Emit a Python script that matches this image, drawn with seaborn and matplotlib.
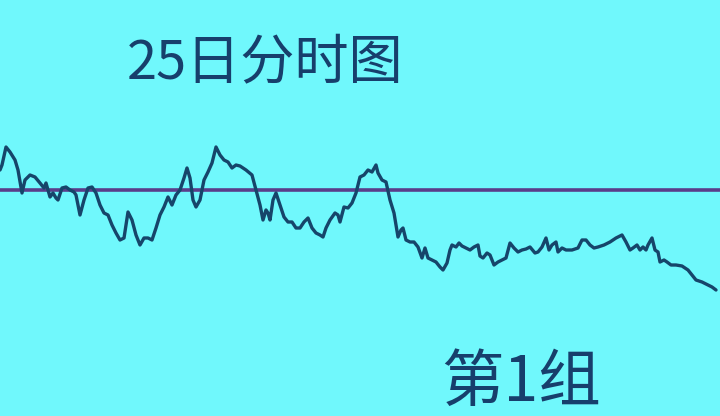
import numpy as np
import pandas as pd
import seaborn as sns
import matplotlib.pyplot as plt

# --- data (sample index, % change vs. prev close) ---
sample_idx = [0, 2, 6, 10, 15, 18, 22, 25, 30, 35, 40, 44, 46, 50, 53, 56, 58, 62, 66, 70,
              74, 76, 80, 84, 88, 92, 96, 100, 104, 108, 112, 116, 120, 124, 128, 132, 136, 140, 144, 148,
              152, 156, 160, 164, 168, 172, 176, 180, 184, 187, 190, 193, 196, 200, 204, 208, 212, 216, 220, 224,
              228, 232, 236, 240, 246, 252, 256, 260, 263, 266, 268, 270, 273, 276, 280, 284, 288, 292, 296, 300,
              304, 308, 312, 316, 320, 323, 326, 330, 335, 338, 340, 344, 348, 352, 356, 360, 364, 368, 372, 376,
              378, 382, 386, 390, 394, 398, 401, 403, 406, 410, 414, 418, 422, 425, 428, 432, 436, 440, 443, 447,
              450, 452, 456, 459, 462, 466, 470, 474, 478, 480, 483, 487, 490, 494, 498, 502, 506, 510, 514, 518,
              522, 526, 530, 535, 538, 542, 546, 549, 552, 556, 558, 562, 566, 572, 578, 582, 586, 590, 594, 598,
              604, 610, 616, 622, 626, 630, 633, 637, 640, 643, 646, 648, 652, 655, 658, 660, 664, 667, 671, 676,
              682, 688, 692, 696, 702, 708, 712, 716]
pct_change = [2.0, 2.5, 4.3, 3.8, 3.0, 2.0, -0.3, 1.0, 1.5, 1.3, 0.7, 0.2, 0.7, -0.7, -0.3, -0.8, -1.0, 0.2, 0.3, 0.0,
              -0.2, -0.5, -2.5, -1.0, 0.2, 0.3, -0.3, -1.5, -2.3, -2.5, -3.5, -4.3, -5.0, -4.8, -2.2, -3.0, -4.5, -5.5, -4.8, -4.8,
              -5.0, -3.8, -2.5, -1.7, -0.7, -1.5, -0.5, 0.0, 1.2, 2.2, 1.2, -1.0, -1.7, -1.0, 1.0, 1.8, 2.7, 4.3, 3.5, 3.0,
              2.8, 2.2, 2.5, 2.4, 2.0, 1.5, 0.0, -1.5, -3.0, -2.0, -2.3, -3.0, -1.0, -0.3, -1.5, -2.7, -3.2, -3.2, -3.8, -3.8,
              -3.2, -2.8, -3.8, -4.3, -4.5, -4.7, -3.8, -3.0, -2.3, -2.5, -3.2, -1.7, -1.8, -1.3, -0.3, 1.3, 1.5, 2.0, 1.8, 2.5,
              1.7, 1.0, 0.8, -1.0, -2.3, -4.7, -4.0, -3.8, -5.0, -5.2, -5.2, -5.7, -6.8, -5.8, -6.8, -7.0, -7.2, -7.7, -8.0, -7.3,
              -6.0, -5.5, -5.7, -5.3, -5.6, -5.8, -6.0, -5.7, -5.5, -6.6, -6.8, -6.3, -6.5, -7.5, -7.2, -7.0, -6.8, -5.3, -5.8, -6.2,
              -6.0, -5.9, -5.7, -6.3, -6.2, -5.7, -4.8, -6.0, -5.5, -5.2, -6.2, -5.8, -6.0, -6.0, -5.8, -5.0, -5.0, -5.5, -5.8, -5.7,
              -5.5, -5.2, -4.8, -4.5, -5.2, -6.0, -5.8, -5.5, -6.0, -5.7, -6.0, -5.5, -4.8, -6.0, -6.2, -7.2, -7.0, -7.2, -7.5, -7.5,
              -7.6, -8.0, -8.5, -9.0, -9.2, -9.5, -9.7, -10.0]
prev_close = 0.0
title_text = "25日分时图"
group_text = "第1组"

BG = "#70f8fc"
LINE_C = "#16456a"
REF_C = "#5a3d8a"
TEXT_C = "#173f6c"

df = pd.DataFrame({"idx": sample_idx, "pct": pct_change})

sns.set_style("white")
plt.rcParams["font.family"] = ["Noto Sans CJK SC", "DejaVu Sans"]

fig = plt.figure(figsize=(7.2, 4.16), dpi=100, facecolor=BG)
ax = fig.add_axes([0, 0, 1, 1], facecolor=BG)

ax.axhline(prev_close, color=REF_C, lw=2.6, zorder=1)
sns.lineplot(data=df, x="idx", y="pct", ax=ax, color=LINE_C, lw=2.4, zorder=2)

ax.set_xlim(0, 720)
ax.set_ylim(-22.6, 19)
ax.axis("off")

fig.text(0.176, 0.8125, title_text, ha="left", va="baseline", fontsize=39, color=TEXT_C)
fig.text(0.613, 0.002, group_text, ha="left", va="bottom", fontsize=45, color=TEXT_C)

fig.savefig("out.png", dpi=100, facecolor=BG)
